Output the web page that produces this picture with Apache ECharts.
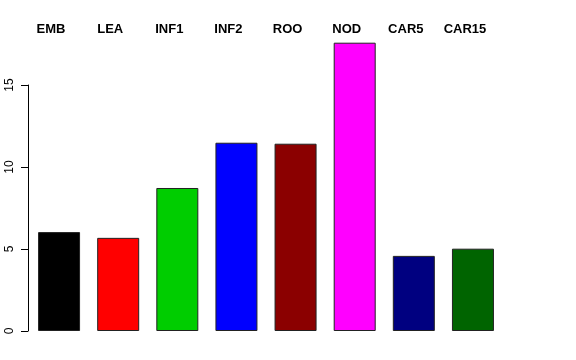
<!DOCTYPE html>
<html>
<head>
<meta charset="utf-8">
<script src="https://cdn.jsdelivr.net/npm/echarts@6/dist/echarts.min.js"></script>
<style>
html,body{margin:0;padding:0;background:#fff;}
#main{width:576px;height:360px;}
</style>
</head>
<body>
<div id="main"></div>
<script>
var categories = ["EMB", "LEA", "INF1", "INF2", "ROO", "NOD", "CAR5", "CAR15"];
var values = [6.03, 5.68, 8.72, 11.48, 11.42, 17.58, 4.58, 5.02];
var barColors = ["#000000", "#FF0000", "#00CD00", "#0000FF", "#8B0000", "#FF00FF", "#000080", "#006400"];
var yTicks = [0, 5, 10, 15];

var chart = echarts.init(document.getElementById('main'), null, {renderer: 'canvas'});
chart.setOption({
  animation: false,
  backgroundColor: '#ffffff',
  grid: {left: 29.5, width: 473, top: 85, bottom: 29, containLabel: false},
  xAxis: {
    type: 'category',
    position: 'top',
    data: categories,
    axisLine: {show: false},
    axisTick: {show: false},
    axisLabel: {
      interval: 0,
      margin: 49,
      fontFamily: 'Liberation Sans, Arial, sans-serif',
      fontWeight: 'bold',
      fontSize: 13,
      color: '#000',
      padding: [0, 16, 0, 0]
    }
  },
  yAxis: {
    type: 'value',
    min: yTicks[0],
    max: yTicks[yTicks.length - 1],
    interval: 5,
    offset: 1.5,
    axisLine: {show: true, lineStyle: {color: '#000', width: 1}},
    axisTick: {show: true, length: 7, lineStyle: {color: '#000', width: 1}},
    splitLine: {show: false},
    axisLabel: {
      rotate: 90,
      margin: 12,
      fontFamily: 'Liberation Sans, Arial, sans-serif',
      fontSize: 12,
      color: '#000'
    }
  },
  series: [{
    type: 'bar',
    clip: false,
    barWidth: 42,
    data: values.map(function (v, i) {
      return {value: v, itemStyle: {color: barColors[i]}};
    }),
    itemStyle: {borderColor: '#222', borderWidth: 1}
  }]
});
</script>
</body>
</html>
